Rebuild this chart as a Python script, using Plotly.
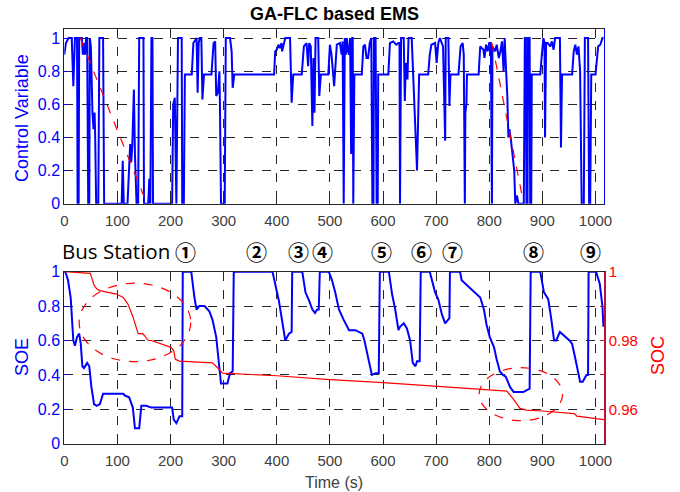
import plotly.graph_objects as go

# ---------------- data ----------------
# Control variable (top panel)
cv_t = [0, 3, 8, 14, 17, 20, 24, 25, 27, 28, 33, 35, 37, 39, 41, 43, 45, 47, 48, 50, 53, 55, 57, 58, 60, 64, 66, 73, 75,
        108, 110, 112, 119, 121, 124, 126, 128, 131, 133, 136, 139, 141, 149, 150, 158, 160, 162, 164, 166, 167,
        203, 205, 208, 211, 214, 221, 222, 225, 227, 240, 243, 247, 249, 251, 253, 255, 258, 260, 263, 277, 281, 284,
        286, 289, 292, 293, 295, 302, 304, 312, 315, 317, 320, 395, 397, 400, 403, 406, 409, 410, 414, 416, 425, 428,
        431, 447, 451, 456, 459, 461, 464, 467, 469, 471, 473, 478, 480, 483, 497, 500, 503, 508, 513, 519, 522, 524,
        526, 528, 530, 532, 534, 536, 538, 540, 542, 543, 544, 546, 560, 563, 566, 569, 572, 575, 578, 580, 582, 583,
        586, 588, 590, 591, 610, 613, 619, 625, 629, 631, 632, 634, 639, 641, 643, 646, 648, 654, 664, 668, 685, 688,
        691, 698, 701, 704, 707, 713, 717, 718, 723, 725, 727, 742, 746, 750, 752, 754, 755, 757, 758, 780, 783, 789,
        791, 794, 797, 800, 803, 804, 805, 806, 811, 814, 818, 821, 824, 827, 829, 831, 834, 836, 838, 841, 844, 847,
        849, 852, 855, 865, 867, 869, 870, 872, 873, 876, 877, 879, 880, 896, 899, 902, 904, 905, 907, 910, 915, 918,
        921, 924, 933, 935, 937, 956, 959, 962, 965, 968, 971, 974, 978, 980, 986, 988, 990, 992, 1000, 1005, 1009,
        1013, 1015]
cv_u = [0.90, 0.97, 1.0, 1.0, 0.71, 1.0, 1.0, 0.0, 0.0, 1.0, 1.0, 0.90, 0.97, 0.90, 1.0, 1.0, 0.0, 0.0, 1.0, 0.95,
        0.55, 0.45, 0.55, 0.43, 0.0, 0.0, 1.0, 1.0, 0.0,
        0.0, 0.26, 0.0, 0.0, 0.20, 0.36, 0.25, 0.35, 0.69, 0.30, 0.0, 0.0, 1.0, 1.0, 0.0, 0.0, 0.15, 0.0, 1.0, 1.0, 0.0,
        0.0, 0.60, 0.64, 0.0, 1.0, 1.0, 0.0, 0.0, 0.78, 0.78, 0.97, 0.99, 1.0, 0.67, 0.97, 1.0, 1.0, 0.63, 0.78, 0.78,
        0.97, 0.98,
        0.65, 0.67, 0.80, 0.60, 0.0, 0.0, 1.0, 1.0, 0.92, 0.70, 0.78, 0.78, 0.92, 0.93, 0.96, 0.94, 0.97, 0.92, 0.98,
        1.0, 1.0, 0.61,
        0.78, 0.78, 0.95, 0.97, 0.83, 0.97, 0.95, 0.47, 0.88, 0.55, 1.0, 1.0, 0.65, 0.78, 0.78, 0.96, 0.90, 0.71, 0.96,
        0.97, 0.90, 0.98,
        0.0, 1.0, 0.90, 1.0, 0.92, 0.90, 1.0, 0.30, 1.0, 1.0, 0.0, 0.78, 0.78, 0.95, 0.96, 0.88, 0.88, 0.97, 1.0, 0.0,
        0.0, 1.0,
        1.0, 0.0, 0.0, 0.78, 0.78, 0.97, 0.98, 0.96, 0.97, 0.97, 0.0, 1.0, 1.0, 0.62, 0.85, 0.75, 1.0, 1.0, 0.20, 0.78,
        0.78, 0.90,
        0.96, 0.97, 0.85, 0.97, 1.0, 0.95, 0.38, 1.0, 1.0, 0.59, 0.78, 0.78, 0.95, 0.97, 0.90, 0.0, 0.55, 0.60, 0.78,
        0.78, 0.95, 0.93,
        0.88, 0.96, 0.92, 0.97, 0.97, 0.0, 0.0, 0.95, 0.92, 0.96, 0.88, 0.92, 0.98, 0.80, 1.0, 0.85, 0.65, 0.40, 0.45,
        0.38, 0.30, 0.20,
        0.0, 0.05, 0.0, 0.0, 1.0, 1.0, 0.0, 0.0, 1.0, 1.0, 0.0, 0.0, 0.78, 0.78, 0.90, 1.0, 0.97, 0.40, 0.97, 0.97, 0.95,
        0.98,
        0.93, 1.0, 1.0, 0.34, 0.78, 0.78, 0.92, 0.96, 0.90, 0.95, 0.80, 0.0, 0.0, 1.0, 1.0, 0.0, 0.0, 0.78, 0.78, 0.95,
        0.96,
        1.0, 1.0]

# Trend lines (red dashed) in top panel
trend1_t = [30, 153]
trend1_u = [1.0, 0.02]
trend2_t = [805, 863]
trend2_u = [0.97, 0.03]

# SOE (bottom panel, left axis)
soe_t = [0, 3, 7, 12, 17, 20, 24, 28, 31, 34, 37, 43, 47, 51, 56, 61, 67, 73, 111, 114, 122, 129, 133, 141, 145, 154,
         164, 203, 206, 211, 217, 222, 223, 239, 245, 249, 254, 264, 273, 279, 286, 292, 295, 307, 312, 317, 319, 392,
         398, 404, 416, 423, 428, 429, 448, 454, 461, 467, 472, 476, 479, 481, 498, 504, 510, 517, 526, 532, 536, 548,
         561, 565, 570, 576, 579, 586, 592, 594, 611, 617, 623, 629, 632, 639, 645, 651, 656, 661, 664, 669, 671, 688,
         694, 698, 704, 711, 717, 720, 725, 726, 745, 748, 758, 773, 783, 790, 795, 801, 809, 814, 820, 826, 831, 839,
         846, 864, 876, 878, 896, 903, 911, 917, 922, 926, 933, 951, 956, 961, 967, 971, 976, 983, 986, 987, 1001, 1008,
         1013, 1015]
soe_v = [1.0, 0.99, 0.95, 0.85, 0.60, 0.57, 0.62, 0.64, 0.58, 0.45, 0.44, 0.47, 0.45, 0.33, 0.23, 0.22, 0.23, 0.29,
         0.29, 0.28, 0.27, 0.21, 0.09, 0.09, 0.22, 0.22,
         0.21, 0.21, 0.14, 0.12, 0.16, 0.16, 1.0, 1.0, 0.85, 0.78, 0.80, 0.80, 0.77, 0.72, 0.62, 0.41, 0.35, 0.35, 0.41,
         0.42, 1.0, 1.0,
         0.91, 0.83, 0.60, 0.64, 0.65, 1.0, 1.0, 0.88, 0.83, 0.78, 0.76, 0.78, 0.78, 1.0, 1.0, 0.95, 0.88, 0.78, 0.72,
         0.68, 0.66, 0.66,
         0.64, 0.60, 0.53, 0.43, 0.40, 0.41, 0.41, 1.0, 1.0, 0.87, 0.78, 0.66, 0.68, 0.70, 0.67, 0.60, 0.47, 0.45, 0.48,
         0.48, 1.0, 1.0,
         0.93, 0.88, 0.84, 0.75, 0.70, 0.71, 0.73, 1.0, 1.0, 0.95, 0.92, 0.88, 0.85, 0.78, 0.69, 0.62, 0.56, 0.49, 0.42,
         0.40, 0.39, 0.33,
         0.30, 0.30, 0.32, 1.0, 1.0, 0.88, 0.84, 0.72, 0.60, 0.60, 0.65, 0.60, 0.58, 0.51, 0.43, 0.36, 0.36, 0.40, 0.40,
         1.0, 1.0, 0.93,
         0.80, 0.68]

# SOC (bottom panel, right axis)
soc_t = [0, 49, 56, 61, 67, 98, 111, 120, 129, 136, 139, 148, 158, 164, 201, 206, 209, 217, 279, 289, 298, 400, 500,
         600, 700, 800, 833, 845, 858, 870, 900, 960, 965, 1016]
soc_v = [1.0, 0.9995, 0.9961, 0.9950, 0.9945, 0.9935, 0.9925, 0.9905, 0.9870, 0.9835, 0.9820, 0.9820, 0.9800, 0.9800,
         0.9780, 0.9770, 0.9745, 0.9740, 0.9735, 0.9720, 0.9705, 0.96975, 0.96860, 0.96775, 0.96675, 0.96560, 0.96530,
         0.96300, 0.96025, 0.95975, 0.95950, 0.95875, 0.95800, 0.95700]

# Bus stations
station_labels = ["①", "②", "③", "④", "⑤", "⑥", "⑦", "⑧", "⑨"]
station_t = [229, 361, 440, 487, 598, 673, 731, 883, 990]

# Highlight ellipses (time range, SOE range)
ellipse_t0 = [28, 781]
ellipse_t1 = [238, 938]
ellipse_v0 = [0.477, 0.134]
ellipse_v1 = [0.933, 0.442]

x_ticks = list(range(0, 1001, 100))
y_ticks = [0, 0.2, 0.4, 0.6, 0.8, 1]
y_ticktext = ["0", "0.2", "0.4", "0.6", "0.8", "1"]
soc_ticks = [0.95, 0.96, 0.97, 0.98, 0.99, 1.0]
soc_ticktext = ["", "0.96", "", "0.98", "", "1"]

# ---------------- figure ----------------
W, H = 680, 492
BLUE = "#0000FF"
RED = "#FF0000"
GRID = "#262626"
FONT = "Liberation Sans, Arial, sans-serif"

def px_x(p):
    return p / W

def px_y(p):
    return 1 - p / H

xdom = [px_x(64.3), px_x(604)]
ydom_top = [px_y(203.7), px_y(29)]
ydom_bot = [px_y(443.7), px_y(271.7)]

fig = go.Figure()

fig.add_trace(go.Scatter(x=cv_t, y=cv_u, mode="lines", line=dict(color=BLUE, width=2),
                         xaxis="x", yaxis="y", showlegend=False))
fig.add_trace(go.Scatter(x=trend1_t, y=trend1_u, mode="lines", line=dict(color=RED, width=1.2, dash="dash"),
                         xaxis="x", yaxis="y", showlegend=False))
fig.add_trace(go.Scatter(x=trend2_t, y=trend2_u, mode="lines", line=dict(color=RED, width=1.2, dash="dash"),
                         xaxis="x", yaxis="y", showlegend=False))

fig.add_trace(go.Scatter(x=soe_t, y=soe_v, mode="lines", line=dict(color=BLUE, width=2),
                         xaxis="x2", yaxis="y3", showlegend=False))
fig.add_trace(go.Scatter(x=soc_t, y=soc_v, mode="lines", line=dict(color=RED, width=1.2),
                         xaxis="x2", yaxis="y4", showlegend=False))

xcommon = dict(range=[0, 1016], tickvals=x_ticks, showline=True, linecolor="#262626", linewidth=1,
               mirror=True, ticks="inside", ticklen=4, tickcolor="#262626", ticklabelstandoff=3,
               showgrid=True, gridcolor=GRID, griddash="dash", gridwidth=1,
               tickfont=dict(family=FONT, size=15, color="#404040"), zeroline=False, automargin=False)

ycommon = dict(tickvals=y_ticks, ticktext=y_ticktext, showline=True, linecolor=BLUE, linewidth=1,
               ticks="inside", ticklen=4, tickcolor=BLUE,
               showgrid=True, gridcolor=GRID, griddash="dash", gridwidth=1,
               tickfont=dict(family=FONT, size=16, color=BLUE), zeroline=False, automargin=False)

fig.update_layout(
    width=W, height=H,
    margin=dict(l=0, r=0, t=0, b=0, pad=0, autoexpand=False),
    paper_bgcolor="white", plot_bgcolor="white",
    xaxis=dict(domain=xdom, anchor="y", **xcommon),
    yaxis=dict(domain=ydom_top, anchor="x", range=[0, 1.055], mirror=True, **ycommon),
    xaxis2=dict(domain=xdom, anchor="y3", **xcommon),
    yaxis3=dict(domain=ydom_bot, anchor="x2", range=[0, 1], **ycommon),
    yaxis4=dict(domain=ydom_bot, anchor="x2", overlaying="y3", side="right", range=[0.95, 1],
                tickvals=soc_ticks, ticktext=soc_ticktext, showline=True, linecolor="#C0103C", linewidth=1.5,
                ticks="inside", ticklen=4, tickcolor="#C0103C", showgrid=False, zeroline=False, automargin=False,
                tickfont=dict(family=FONT, size=15, color=RED)),
)

# ellipses
for t0, t1, v0, v1 in zip(ellipse_t0, ellipse_t1, ellipse_v0, ellipse_v1):
    fig.add_shape(type="circle", xref="x2", yref="y3", x0=t0, x1=t1, y0=v0, y1=v1,
                  line=dict(color=RED, width=1.2, dash="dash"))

annotations = [
    dict(text="<b>GA-FLC based EMS</b>", x=px_x(334), y=px_y(14), xref="paper", yref="paper",
         showarrow=False, font=dict(family=FONT, size=18, color="black"), xanchor="center", yanchor="middle"),
    dict(text="Control Variable", x=px_x(22), y=px_y(118), xref="paper", yref="paper", textangle=-90,
         showarrow=False, font=dict(family=FONT, size=18, color=BLUE), xanchor="center", yanchor="middle"),
    dict(text="SOE", x=px_x(22), y=px_y(357), xref="paper", yref="paper", textangle=-90,
         showarrow=False, font=dict(family=FONT, size=18, color=BLUE), xanchor="center", yanchor="middle"),
    dict(text="SOC", x=px_x(658), y=px_y(356), xref="paper", yref="paper", textangle=-90,
         showarrow=False, font=dict(family=FONT, size=18, color=RED), xanchor="center", yanchor="middle"),
    dict(text="Time (s)", x=px_x(334), y=px_y(482), xref="paper", yref="paper",
         showarrow=False, font=dict(family=FONT, size=16, color="#404040"), xanchor="center", yanchor="middle"),
    dict(text="Bus Station", x=px_x(60), y=px_y(251), xref="paper", yref="paper",
         showarrow=False, font=dict(family="Open Sans, Noto Sans, sans-serif", size=20.5, color="black"),
         xanchor="left", yanchor="middle"),
]
for lab, t in zip(station_labels, station_t):
    annotations.append(dict(text="<b>" + lab + "</b>", x=t, y=px_y(251), xref="x2", yref="paper", showarrow=False,
                            font=dict(family="Noto Sans CJK SC", size=21, color="black"),
                            xanchor="center", yanchor="middle"))
fig.update_layout(annotations=annotations)

fig.write_html("out.html")
